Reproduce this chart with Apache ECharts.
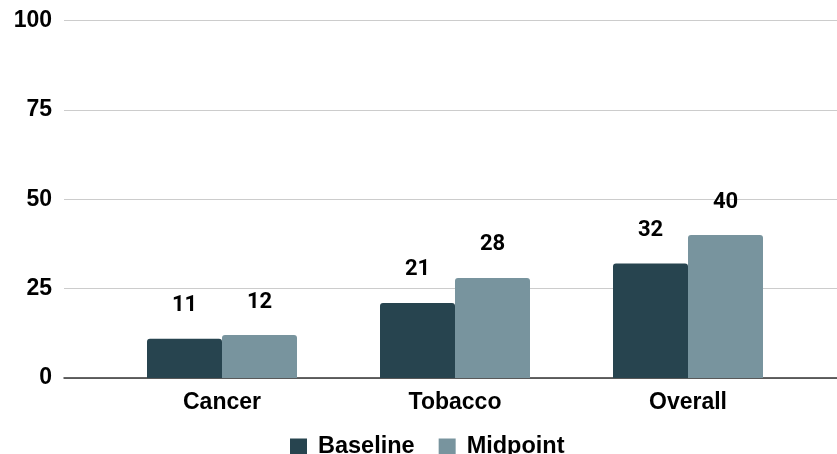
<!DOCTYPE html>
<html>
<head>
<meta charset="utf-8">
<script src="https://cdn.jsdelivr.net/npm/echarts@6/dist/echarts.min.js"></script>
<style>
html,body{margin:0;padding:0;background:#fff;}
#chart{width:837px;height:454px;}
</style>
</head>
<body>
<div id="chart"></div>
<script>
const categories = ["Cancer", "Tobacco", "Overall"];
const baseline = [11, 21, 32];
const midpoint = [12, 28, 40];
const seriesNames = ["Baseline", "Midpoint"];
const yTicks = [0, 25, 50, 75, 100];

const colors = ["#27444f", "#78949e"];
const chart = echarts.init(document.getElementById('chart'));
const labelStyle = {
  show: true, position: 'top', distance: 22,
  fontFamily: 'Roboto', fontWeight: 'bold', fontSize: 22, color: '#000'
};
chart.setOption({
  animation: false,
  color: colors,
  grid: [
    {left: 64, right: 0, top: 20.5, bottom: 76},
    {left: 105.5, right: 32.5, top: 20.5, bottom: 76}
  ],
  legend: {
    data: seriesNames,
    top: 430, left: 285,
    itemWidth: 17, itemHeight: 17, itemGap: 24,
    icon: 'rect',
    textStyle: {fontFamily: 'Liberation Sans', fontWeight: 'bold', fontSize: 23.5, color: '#000', padding: [0,0,0,6]}
  },
  xAxis: [
    {gridIndex: 0, type: 'category', data: categories, axisLabel: {show: false}, axisTick: {show: false},
     axisLine: {show: true, lineStyle: {color: '#333', width: 1.5}}},
    {gridIndex: 1, type: 'category', data: categories, axisTick: {show: false}, axisLine: {show: false},
     axisLabel: {margin: 13, fontFamily: 'Liberation Sans', fontWeight: 'bold', fontSize: 23, color: '#000'}}
  ],
  yAxis: [
    {gridIndex: 0, type: 'value', min: yTicks[0], max: yTicks[yTicks.length-1], interval: 25,
     axisLine: {show: false}, axisTick: {show: false},
     axisLabel: {margin: 12, fontFamily: 'Liberation Sans', fontWeight: 'bold', fontSize: 23, color: '#000'},
     splitLine: {lineStyle: {color: '#cccccc', width: 1.2}}},
    {gridIndex: 1, type: 'value', min: 0, max: 100, show: false, splitLine: {show: false}}
  ],
  series: [
    {name: seriesNames[0], type: 'bar', xAxisIndex: 1, yAxisIndex: 1, data: baseline, barWidth: 75, barGap: '0%',
     itemStyle: {borderRadius: [3,3,0,0]}, label: labelStyle},
    {name: seriesNames[1], type: 'bar', xAxisIndex: 1, yAxisIndex: 1, data: midpoint, barWidth: 75, barGap: '0%',
     itemStyle: {borderRadius: [3,3,0,0]}, label: labelStyle}
  ]
});
</script>
</body>
</html>
